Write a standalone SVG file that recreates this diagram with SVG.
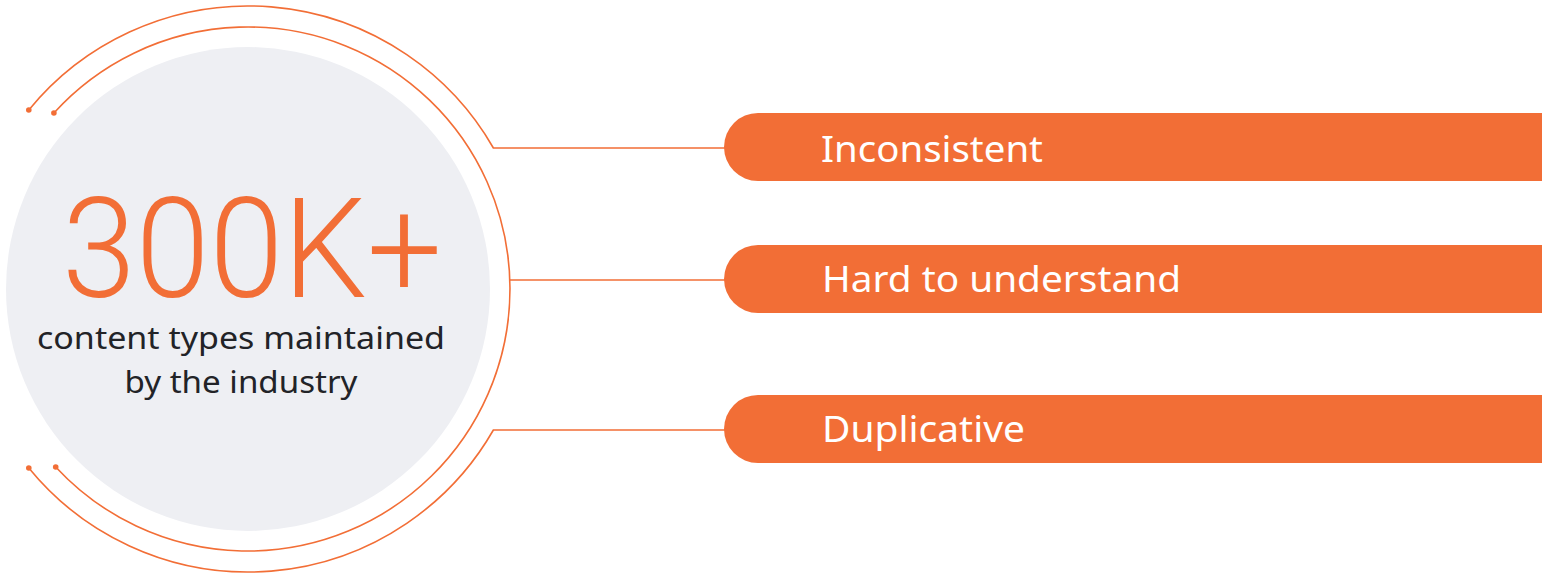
<svg xmlns="http://www.w3.org/2000/svg" width="1542" height="573" viewBox="0 0 1542 573">
<style>
.arc{fill:none;stroke:#F26E36;stroke-width:1.6}
.dot{fill:#F26E36}
.pill{fill:#F26E36}
.lbl{font-family:"Noto Sans","Liberation Sans",sans-serif;font-size:36px;fill:#FFFFFF}
.sub{font-family:"Noto Sans","Liberation Sans",sans-serif;font-size:30px;fill:#222327}
.big{font-family:Roboto,"Liberation Sans",sans-serif;font-weight:300;font-size:140px;fill:#F26E36}
</style>
<rect width="1542" height="573" fill="#FFFFFF"/>
<g id="hub">
<circle cx="248" cy="289" r="242" fill="#EEEFF3"/>
<text class="big" x="62" y="297" textLength="380" lengthAdjust="spacingAndGlyphs">300K+</text>
<text class="sub" x="241" y="349" text-anchor="middle" textLength="408" lengthAdjust="spacingAndGlyphs">content types maintained</text>
<text class="sub" x="241" y="393" text-anchor="middle" textLength="233" lengthAdjust="spacingAndGlyphs">by the industry</text>
</g>
<g id="connectors">
<path class="arc" d="M 28.8 110 A 283 283 0 0 1 493.4 148 L 725 148"/>
<path class="arc" d="M 28.8 468 A 283 283 0 0 0 493.4 430 L 725 430"/>
<path class="arc" d="M 53.9 113 A 262 262 0 1 1 55.7 467"/>
<path class="arc" d="M 509.8 280 L 725 280"/>
<circle class="dot" cx="28.8" cy="110" r="2.8"/>
<circle class="dot" cx="53.9" cy="113" r="2.8"/>
<circle class="dot" cx="28.8" cy="468" r="2.8"/>
<circle class="dot" cx="55.7" cy="467" r="2.8"/>
</g>
<g id="inconsistent">
<path class="pill" d="M 1542 113 H 758 A 34 34 0 0 0 758 181 H 1542 Z"/>
<text class="lbl" x="821" y="162" textLength="222" lengthAdjust="spacingAndGlyphs">Inconsistent</text>
</g>
<g id="hard">
<path class="pill" d="M 1542 245 H 758 A 34 34 0 0 0 758 313 H 1542 Z"/>
<text class="lbl" x="822" y="292" textLength="359" lengthAdjust="spacingAndGlyphs">Hard to understand</text>
</g>
<g id="duplicative">
<path class="pill" d="M 1542 395 H 758 A 34 34 0 0 0 758 463 H 1542 Z"/>
<text class="lbl" x="822" y="442" textLength="203" lengthAdjust="spacingAndGlyphs">Duplicative</text>
</g>
</svg>
